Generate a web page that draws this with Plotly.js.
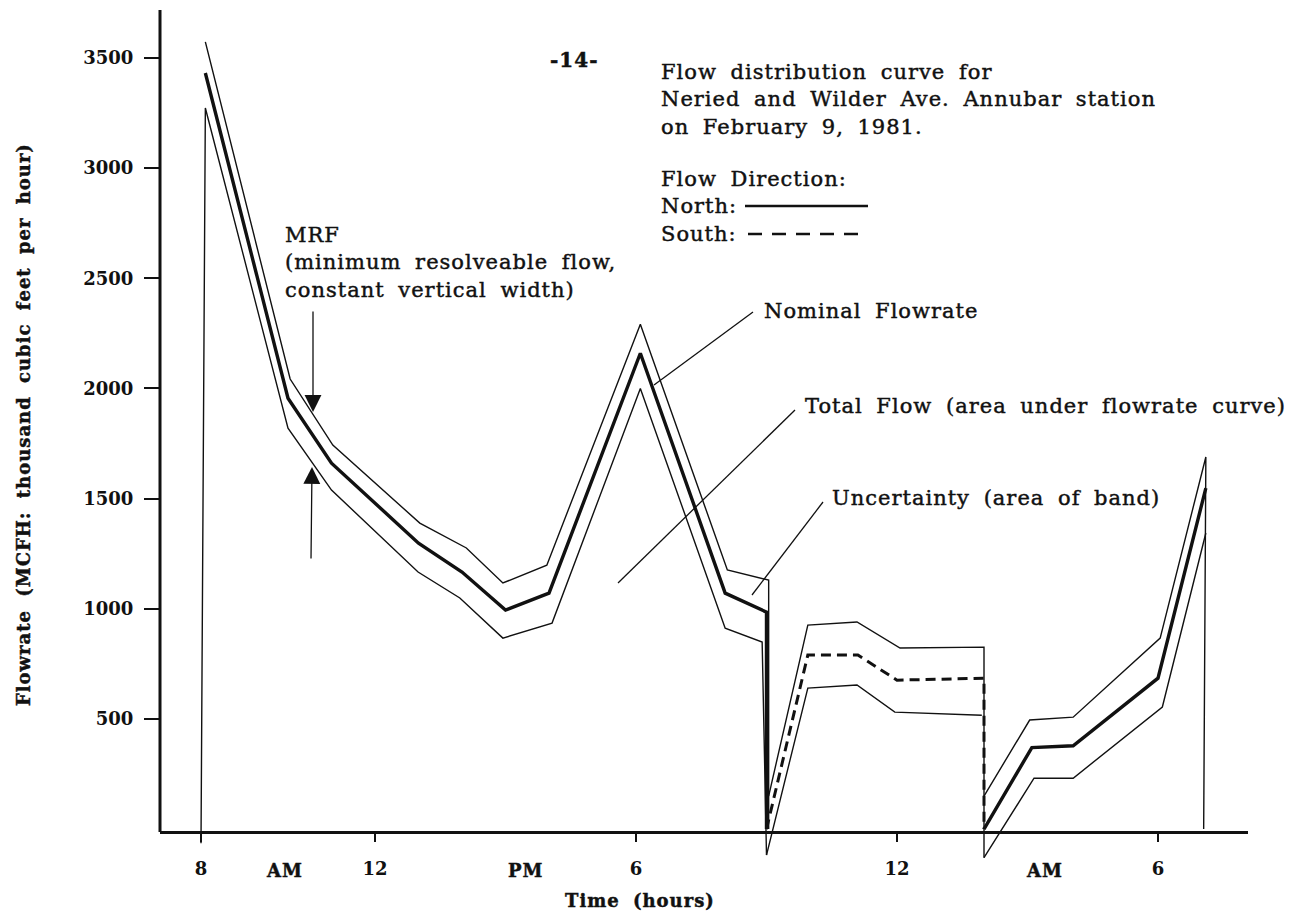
<!DOCTYPE html>
<html>
<head>
<meta charset="utf-8">
<script src="https://cdn.plot.ly/plotly-3.0.1.min.js"></script>
<style>
  html, body { margin: 0; padding: 0; background: #fff; }
  #chart { width: 1294px; height: 915px; }
  .annotation-text { letter-spacing: 1px; word-spacing: 6px; stroke: #111; stroke-width: 0.45px; }
</style>
</head>
<body>
<div id="chart"></div>
<script>
// ---------- axis ticks ----------
const tickHours = [8, 12, 18, 24, 30];
const tickLabels = ['8', '12', '6', '12', '6'];
const ampmHours = [9.93, 15.45, 27.4];
const ampmLabels = ['AM', 'PM', 'AM'];
const yTickValues = [500, 1000, 1500, 2000, 2500, 3000, 3500];

// ---------- North flow, day (8 AM to 9 PM) ----------
const northDayHours   = [8.1, 10.0, 11.0, 13.0, 14.0, 15.0, 16.0, 18.1, 20.05, 21.0, 21.0];
const northDayNominal = [3432, 1956, 1661, 1298, 1167, 994, 1071, 2160, 1071, 985, 0];
const northDayUpperHours = [8.1, 10.05, 11.03, 13.03, 14.1, 14.94, 15.95, 18.1, 20.1, 21.05, 21.05];
const northDayUpper      = [3573, 2043, 1743, 1389, 1276, 1117, 1198, 2292, 1176, 1130, 0];
const northDayLowerHours = [8.0, 8.1, 10.0, 11.0, 12.99, 13.95, 14.94, 16.07, 18.1, 20.05, 20.9, 21.0];
const northDayLower      = [-64, 3273, 1820, 1539, 1167, 1049, 867, 935, 2000, 912, 849, -118];

// ---------- South flow (9 PM to 1 AM) ----------
const southHours   = [21.0, 21.95, 23.1, 24.0, 26.0, 26.0];
const southNominal = [0, 790, 790, 676, 685, 0];
const southUpperHours = [21.05, 21.95, 23.08, 24.07, 26.0, 26.0];
const southUpper      = [150, 926, 940, 822, 826, -130];
const southLowerHours = [21.0, 21.95, 23.08, 23.95, 25.95];
const southLower      = [-118, 640, 654, 531, 517];

// ---------- North flow, early morning (1 AM to 7 AM) ----------
const mornHours   = [26.0, 27.1, 28.05, 30.0, 31.1];
const mornNominal = [0, 370, 378, 685, 1548];
const mornUpperHours = [26.0, 27.05, 28.05, 30.05, 31.1, 31.05];
const mornUpper      = [150, 495, 508, 867, 1689, 0];
const mornLowerHours = [26.0, 27.15, 28.05, 30.1, 31.1];
const mornLower      = [-130, 231, 231, 554, 1344];

// ---------- layout geometry ----------
const W = 1294, H = 915;
const M = {l: 160, r: 46, t: 10, b: 50};
const plotW = W - M.l - M.r, plotH = H - M.t - M.b;
const xRange = [7.0575, 32.069];
const yRange = [-163, 3718];
const axisY = -13.6; // level of the drawn time axis
const px = (x) => (x - M.l) / plotW;
const py = (y) => (H - M.b - y) / plotH;

const INK = '#111';
const SERIF = '"DejaVu Serif", "Liberation Serif", serif';
const thin = {color: INK, width: 1.4};
const thick = {color: INK, width: 3.4};

function tr(x, y, line) {
  return {x: x, y: y, type: 'scatter', mode: 'lines', line: line,
          hoverinfo: 'skip', showlegend: false};
}

const traces = [
  tr(northDayUpperHours, northDayUpper, thin),
  tr(northDayHours, northDayNominal, thick),
  tr(northDayLowerHours, northDayLower, thin),
  tr(southUpperHours, southUpper, thin),
  tr(southHours, southNominal, {color: INK, width: 3, dash: '10px,6px'}),
  tr(southLowerHours, southLower, thin),
  tr(mornUpperHours, mornUpper, thin),
  tr(mornHours, mornNominal, thick),
  tr(mornLowerHours, mornLower, thin)
];

const txt = {family: SERIF, size: 21, color: INK};
function note(text, x, y, opts) {
  return Object.assign({text: text, xref: 'paper', yref: 'paper', x: px(x), y: py(y),
    xanchor: 'left', yanchor: 'middle', align: 'left', showarrow: false, font: txt}, opts || {});
}

const annotations = [
  note('-14-', 574, 60, {xanchor: 'center', font: {family: SERIF, size: 20, color: INK, weight: 'bold'}}),
  note('Flow distribution curve for<br>Neried and Wilder Ave. Annubar station<br>on February 9, 1981.', 659, 58, {yanchor: 'top'}),
  note('Flow Direction:<br>North:<br>South:', 659, 165, {yanchor: 'top'}),
  note('MRF<br>(minimum resolveable flow,<br>constant vertical width)', 283, 221, {yanchor: 'top'}),
  note('Nominal Flowrate', 762, 311),
  note('Total Flow (area under flowrate curve)', 803, 406),
  note('Uncertainty (area of band)', 830, 498),
  // MRF arrows
  {text: '', xref: 'paper', yref: 'paper', x: px(313), y: py(412), ax: 0, ay: -102,
   showarrow: true, arrowhead: 2, arrowsize: 2.6, arrowwidth: 1.3, arrowcolor: INK, standoff: 0},
  {text: '', xref: 'paper', yref: 'paper', x: px(312), y: py(467), ax: -1, ay: 93,
   showarrow: true, arrowhead: 2, arrowsize: 2.6, arrowwidth: 1.3, arrowcolor: INK, standoff: 0},
  // axis title texts
  note('Time (hours)', 640, 900, {xanchor: 'center', font: {family: SERIF, size: 18, color: INK, weight: 'bold'}}),
  note('Flowrate (MCFH: thousand cubic feet per hour)', 23, 425,
       {xanchor: 'center', textangle: -90, font: {family: SERIF, size: 18, color: INK, weight: 'bold'}})
];
ampmHours.forEach((h, i) => {
  annotations.push({text: ampmLabels[i], xref: 'x', yref: 'paper', x: h, y: py(870),
    xanchor: 'center', yanchor: 'middle', showarrow: false,
    font: {family: SERIF, size: 18, color: INK, weight: 'bold'}});
});

function seg(x0, y0, x1, y1, w, dash) {
  return {type: 'line', xref: 'paper', yref: 'paper', x0: px(x0), y0: py(y0), x1: px(x1), y1: py(y1),
          line: {color: INK, width: w || 1.3, dash: dash || 'solid'}};
}
const shapes = [
  // vertical value axis line, from the time axis to the top
  {type: 'line', xref: 'paper', yref: 'y', x0: 0, x1: 0, y0: axisY, y1: yRange[1],
   line: {color: INK, width: 3}},
  // legend samples
  seg(745, 206, 868, 206, 2.6),
  seg(748, 234, 862, 234, 2.6, '14px,10px'),
  // leader lines
  seg(753, 312, 654, 385),
  seg(795, 410, 618, 583),
  seg(823, 502, 752, 595)
];

const layout = {
  width: W, height: H,
  margin: M,
  paper_bgcolor: '#fff', plot_bgcolor: '#fff',
  showlegend: false,
  font: {family: SERIF, color: INK},
  xaxis: {
    range: xRange, showgrid: false, zeroline: false,
    anchor: 'free', position: (axisY - yRange[0]) / (yRange[1] - yRange[0]),
    showline: true, linewidth: 3, linecolor: INK,
    tickmode: 'array', tickvals: tickHours, ticktext: tickLabels,
    ticks: 'outside', ticklen: 8, tickwidth: 1.5, tickcolor: INK,
    ticklabelstandoff: 11,
    tickfont: {family: SERIF, size: 18, color: INK, weight: 'bold'}
  },
  yaxis: {
    range: yRange, showgrid: false, zeroline: false, showline: false,
    tickmode: 'array', tickvals: yTickValues,
    ticks: 'outside', ticklen: 15, tickwidth: 2, tickcolor: INK,
    ticklabelstandoff: 7,
    tickfont: {family: SERIF, size: 18, color: INK, weight: 'bold'}
  },
  annotations: annotations,
  shapes: shapes
};

Plotly.newPlot('chart', traces, layout, {staticPlot: true, displayModeBar: false});
</script>
</body>
</html>
